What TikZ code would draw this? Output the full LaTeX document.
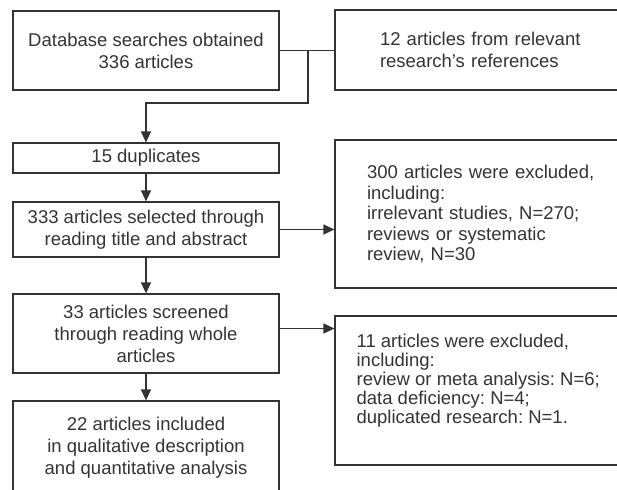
\documentclass[tikz,border=0pt]{standalone}
\usepackage{fontspec}
\setmainfont{Liberation Sans}
\usepackage{xcolor}
\usetikzlibrary{arrows.meta,calc,positioning}

\definecolor{inkgray}{HTML}{333333}
\frenchspacing

\tikzset{
    stagebox/.style={draw=inkgray, line width=1.2pt, text=inkgray, align=center,
        inner sep=0pt, minimum width=266pt,
        font=\fontsize{18.5}{22}\selectfont},
    sidebox/.style={draw=inkgray, line width=1.2pt, text=inkgray, align=left,
        inner ysep=0pt, minimum width=295pt},
    sidetext/.style={text=inkgray, align=left, inner sep=0pt},
    flowline/.style={draw=inkgray, line width=1.2pt},
    flowarrow/.style={flowline, -{Triangle[length=11pt,width=10pt]}}
}

\begin{document}
\begin{tikzpicture}[x=1pt,y=-1pt]
        \useasboundingbox (0,0) rectangle (617,489);
        \clip (0,0) rectangle (617,489);
        % left column
        \node[stagebox, minimum height=79pt] (search) at (146,50.5)
            {Database searches obtained\\336 articles};
        \node[stagebox, minimum height=30pt] (dup) at (146,158) {15 duplicates};
        \node[stagebox, minimum height=55pt] (title) at (146,229.5)
            {333 articles selected through\\reading title and abstract};
        \node[stagebox, minimum height=79pt] (whole) at (146,333.5)
            {33 articles screened\\through reading whole\\articles};
        \node[stagebox, minimum height=94pt] (incl) at (146,448)
            {22 articles included\\in qualitative description\\and quantitative analysis};
        % right column
        \node[sidebox, minimum height=80pt, text width=205pt, inner xsep=45pt,
            font=\fontsize{18.5}{22}\selectfont, text=inkgray] (refs) at (482.5,50)
            {12 articles from relevant\\research's references};
        \node[sidebox, minimum height=148pt, text width=231pt, inner xsep=32pt,
            font=\fontsize{18.5}{20.5}\selectfont, text=inkgray] (excl1) at (482.5,214)
            {300 articles were excluded,\\including:\\irrelevant studies, N=270;\\reviews or systematic\\review, N=30};
        \node[sidebox, minimum height=149pt] (excl2) at (482.5,390.5) {};
        \node[sidetext, anchor=west, font=\fontsize{18.5}{19}\selectfont]
            (excl2txt) at ($(excl2.west)+(22,-10)$)
            {11 articles were excluded,\\including:\\review or meta analysis: N=6;\\data deficiency: N=4;\\duplicated research: N=1.};
        % connectors
        \coordinate (merge) at (308,50);
        \coordinate (bend) at (308,103);
        \draw[flowline] (search.east) -- (search.east -| refs.west);
        \draw[flowarrow] (merge) -- (bend) -| (dup.north);
        \draw[flowarrow] (dup.south) -- (title.north);
        \draw[flowarrow] (title.south) -- (whole.north);
        \draw[flowarrow] (whole.south) -- (incl.north);
        \draw[flowarrow] (title.east) -- (title.east -| excl1.west);
        \draw[flowarrow] ([yshift=5pt]whole.east) -- ([yshift=5pt]whole.east -| excl2.west);
    \end{tikzpicture}
\end{document}
